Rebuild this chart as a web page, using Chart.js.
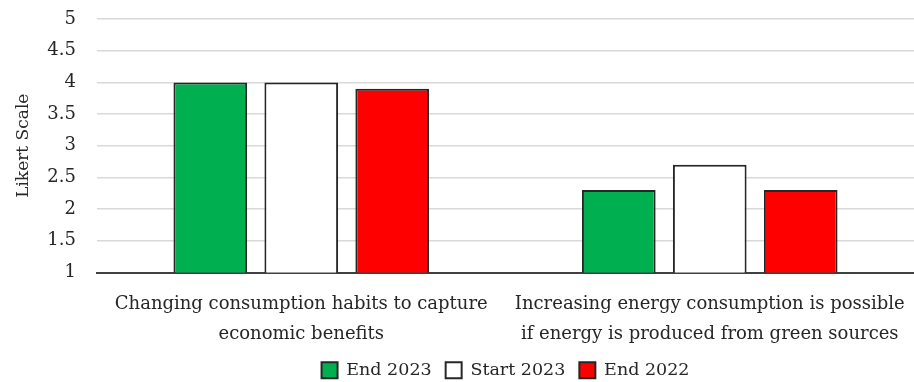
<!DOCTYPE html>
<html>
<head>
<meta charset="utf-8">
<script src="https://cdn.jsdelivr.net/npm/chart.js@4"></script>
<style>
html,body{margin:0;padding:0;background:#fff}
#wrap{width:914px;height:382px}
</style>
</head>
<body>
<div id="wrap"><canvas id="grafico"></canvas></div>
<script>
const categorias=[
["Changing consumption habits to capture","economic benefits"],
["Increasing energy consumption is possible","if energy is produced from green sources"]
]
const end2023=[4.0,2.3]
const start2023=[4.0,2.7]
const end2022=[3.9,2.3]

const fonte="'DejaVu Serif', serif"

new Chart(document.getElementById("grafico"),{
type:"bar",
data:{
labels:categorias,
datasets:[
{label:"End 2023",data:end2023,backgroundColor:"#00b050"},
{label:"Start 2023",data:start2023,backgroundColor:"#ffffff"},
{label:"End 2022",data:end2022,backgroundColor:"#ff0000"}
].map(d=>Object.assign(d,{borderColor:"#262626",borderWidth:2,borderSkipped:false,
categoryPercentage:0.668,barPercentage:0.81}))
},
options:{
responsive:true,
maintainAspectRatio:false,
animation:false,
// plot runs a bit past the right edge so the gridlines reach the border
layout:{padding:{top:19,right:-5,left:0,bottom:-7}},
plugins:{
legend:{
position:"bottom",
fullSize:false,
labels:{
font:{family:fonte,size:17.5},
color:"#262626",
boxWidth:16,
boxHeight:16,
padding:14,
useBorderRadius:false
}
},
tooltip:{enabled:false}
},
scales:{
x:{
grid:{display:false,drawTicks:false},
border:{color:"#404040",width:2},
ticks:{font:{family:fonte,size:18,lineHeight:1.65},color:"#262626",padding:17,maxRotation:0,autoSkip:false},
afterFit(scale){
scale.height=75
scale.paddingLeft=0
scale.paddingRight=0
}
},
y:{
min:1,
max:5,
ticks:{stepSize:0.5,font:{family:fonte,size:18},color:"#262626",padding:21,
callback:v=>String(v)},
grid:{color:"#d9d9d9",lineWidth:1.5,drawTicks:false},
border:{display:false},
title:{display:true,text:"Likert Scale",font:{family:fonte,size:17},color:"#262626",padding:{top:13,bottom:0}},
afterFit(scale){
scale.width=97
scale.paddingTop=0
scale.paddingBottom=0
}
}
}
}
})
</script>
</body>
</html>
